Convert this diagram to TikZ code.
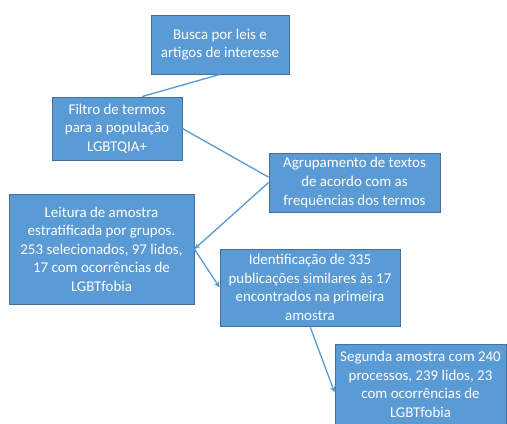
\documentclass[tikz,border=0pt]{standalone}
\usepackage{fontspec}
\setmainfont{Carlito}
\usepackage{xcolor}
\definecolor{boxblue}{RGB}{91,155,213}
\definecolor{boxedge}{RGB}{65,113,156}
\usepackage{tikz}
\usetikzlibrary{arrows.meta,positioning,calc}

\begin{document}
\begin{tikzpicture}[x=0.75pt,y=-0.75pt,
    etapa/.style={draw=boxedge, fill=boxblue, line width=0.6pt, text=white, align=center, inner sep=2pt,
      font=\fontsize{11.2}{13.9}\selectfont},
    liga/.style={draw=boxblue, line width=1pt},
    seta/.style={liga, -{Stealth[length=4.5pt,width=4pt]}}]
  \useasboundingbox (0,0) rectangle (507,424);

  % Etapa 1: busca
  \node[etapa, minimum width=103.5pt, minimum height=44.25pt] (busca) at (220,44.5) {Busca por leis e\\artigos de interesse};

  % Etapa 2: filtro
  \node[etapa, minimum width=97.5pt, minimum height=47.25pt] (filtro) at (117,128.5) {Filtro de termos\\para a população\\LGBTQIA+};

  % Etapa 3: agrupamento
  \node[etapa, minimum width=128.25pt, minimum height=44.25pt] (agrup) at (354.5,182.5) {Agrupamento de textos\\de acordo com as\\frequências dos termos};

  % Etapa 4: primeira leitura
  \node[etapa, minimum width=138.75pt, minimum height=82.5pt] (leitura) at (101.5,249) {Leitura de amostra\\estratificada por grupos.\\253 selecionados, 97 lidos,\\17 com ocorrências de\\LGBTfobia};

  % Etapa 5: identificacao
  \node[etapa, minimum width=135pt, minimum height=57.75pt] (ident) at (310,287.5) {Identificação de 335\\publicações similares às 17\\encontrados na primeira\\amostra};

  % Etapa 6: segunda amostra
  \node[etapa, minimum width=128.25pt, minimum height=60pt] (segunda) at (420.5,384.5) {Segunda amostra com 240\\processos, 239 lidos, 23\\com ocorrências de\\LGBTfobia};

  % ligacoes
  \draw[liga] (busca.south) -- ([xshift=18.75pt]filtro.north);
  \draw[liga] (filtro.east) -- ([yshift=4pt]agrup.west);
  \draw[seta] (agrup.west) -- (leitura.east);
  \draw[seta] (leitura.east) -- (ident.west);
  \draw[seta] (ident.south) -- ([yshift=-6pt]segunda.west);
\end{tikzpicture}
\end{document}
